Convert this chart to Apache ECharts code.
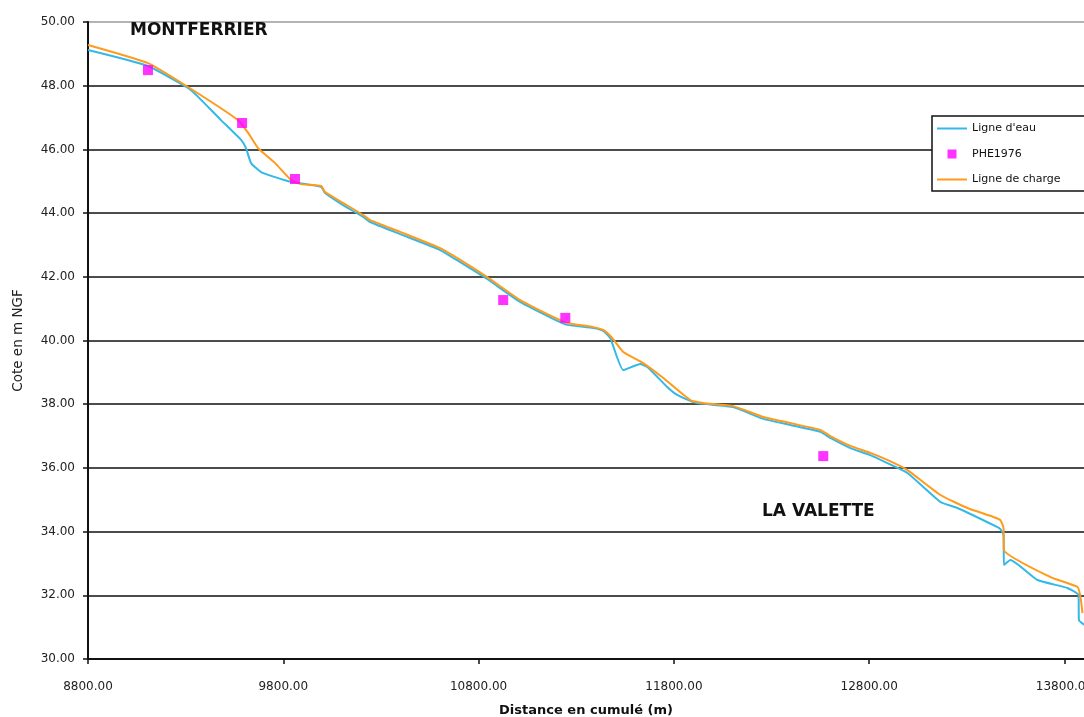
<!DOCTYPE html>
<html>
<head>
<meta charset="utf-8">
<script src="https://cdn.jsdelivr.net/npm/echarts@6/dist/echarts.min.js"></script>
<style>
html,body{margin:0;padding:0;background:#fff;overflow:hidden;}
#chart{width:1084px;height:717px;}
</style>
</head>
<body>
<div id="chart"></div>
<script>
// Ligne d'eau (water line): distance (m) and elevation (m NGF)
const eauX = [8800, 9107, 9312, 9364, 9481, 9584, 9609, 9635, 9686, 9758, 9840, 9994, 10014, 10106, 10209, 10245, 10398, 10603, 10706, 10844, 11013, 11182, 11254, 11387, 11438, 11474, 11541, 11628, 11664, 11766, 11817, 11899, 11951, 12104, 12258, 12396, 12550, 12601, 12704, 12806, 12893, 12996, 13165, 13252, 13457, 13472, 13488, 13490, 13523, 13662, 13815, 13872, 13874, 13903];
const eauY = [49.12, 48.62, 47.93, 47.65, 46.92, 46.30, 46.04, 45.57, 45.29, 45.13, 44.98, 44.82, 44.63, 44.25, 43.88, 43.72, 43.34, 42.84, 42.46, 41.93, 41.21, 40.68, 40.49, 40.39, 40.30, 40.08, 39.07, 39.26, 39.17, 38.54, 38.29, 38.07, 38.01, 37.91, 37.54, 37.35, 37.13, 36.94, 36.62, 36.40, 36.15, 35.84, 34.93, 34.74, 34.14, 34.08, 33.89, 32.95, 33.11, 32.48, 32.23, 32.01, 31.22, 31.07];

// Ligne de charge (energy line)
const chargeX = [8800, 9107, 9312, 9568, 9620, 9671, 9758, 9840, 9891, 9994, 10014, 10106, 10209, 10245, 10398, 10603, 10706, 10844, 11013, 11182, 11254, 11387, 11438, 11484, 11541, 11643, 11746, 11884, 11951, 12104, 12258, 12396, 12550, 12601, 12704, 12806, 12893, 12996, 13165, 13303, 13436, 13472, 13488, 13490, 13728, 13867, 13882, 13892];
const chargeY = [49.28, 48.71, 47.96, 46.92, 46.52, 46.04, 45.57, 45.04, 44.91, 44.85, 44.66, 44.32, 43.94, 43.78, 43.41, 42.90, 42.53, 41.99, 41.27, 40.74, 40.55, 40.42, 40.33, 40.08, 39.64, 39.29, 38.82, 38.13, 38.04, 37.94, 37.60, 37.41, 37.19, 37.00, 36.69, 36.47, 36.25, 35.93, 35.15, 34.74, 34.46, 34.36, 34.11, 33.42, 32.57, 32.26, 31.95, 31.44];

// PHE1976 (highest flood levels 1976)
const pheX = [9107, 9589, 9860, 10926, 11244, 12565];
const pheY = [48.49, 46.83, 45.07, 41.27, 40.71, 36.37];

const seriesNames = ["Ligne d'eau", "PHE1976", "Ligne de charge"];
const xAxisTitle = "Distance en cumulé (m)";
const yAxisTitle = "Cote en m NGF";
const placeLabels = ["MONTFERRIER", "LA VALETTE"];

const zip = (xs, ys) => xs.map((x, i) => [x, ys[i]]);
const FONT = "'DejaVu Sans', Verdana, sans-serif";

const chart = echarts.init(document.getElementById('chart'), null, {renderer: 'canvas', width: 1084, height: 717});

const splitColors = [];
for (let v = 30; v <= 50; v += 2) splitColors.push(v === 50 ? '#9a9a9a' : '#111');

chart.setOption({
  animation: false,
  backgroundColor: '#ffffff',
  grid: {left: 88, right: 0, top: 22, bottom: 58, containLabel: false, outerBoundsMode: 'none'},
  xAxis: {
    type: 'value', min: 8800, max: 13900, interval: 1000,
    name: xAxisTitle, nameLocation: 'middle', nameGap: 45,
    nameTextStyle: {fontFamily: FONT, fontSize: 13, fontWeight: 'bold', color: '#111'},
    axisLine: {show: true, lineStyle: {color: '#111', width: 2}},
    axisTick: {show: true, length: 5, lineStyle: {color: '#111', width: 1.5}},
    axisLabel: {fontFamily: FONT, fontSize: 12, color: '#222', margin: 22, showMaxLabel: false,
      hideOverlap: false, formatter: v => v.toFixed(2)},
    splitLine: {show: false}
  },
  yAxis: {
    type: 'value', min: 30, max: 50, interval: 2,
    name: yAxisTitle, nameLocation: 'middle', nameGap: 63, nameRotate: 90,
    nameTextStyle: {fontFamily: FONT, fontSize: 13.5, color: '#222'},
    axisLine: {show: true, lineStyle: {color: '#111', width: 2}},
    axisTick: {show: true, length: 5, lineStyle: {color: '#111', width: 1.5}},
    axisLabel: {fontFamily: FONT, fontSize: 12, color: '#222', margin: 13,
      formatter: v => v.toFixed(2)},
    splitLine: {show: true, lineStyle: {color: splitColors, width: 1.6}}
  },
  legend: {
    orient: 'vertical', left: 932, top: 116,
    backgroundColor: '#fff', borderColor: '#111', borderWidth: 1.5,
    padding: [7, 40, 6, 5], itemWidth: 30, itemHeight: 9, itemGap: 14.5,
    symbolKeepAspect: true,
    textStyle: {fontFamily: FONT, fontSize: 11, lineHeight: 11, color: '#111'},
    data: [
      {name: seriesNames[0], icon: 'path://M0,0L30,0L30,2L0,2Z'},
      {name: seriesNames[1], icon: 'path://M0,0L10,0L10,10L0,10Z'},
      {name: seriesNames[2], icon: 'path://M0,0L30,0L30,2L0,2Z'}
    ]
  },
  series: [
    {
      name: seriesNames[0], type: 'line', data: zip(eauX, eauY),
      symbol: 'none', smooth: 0.15, z: 3,
      lineStyle: {color: '#33b8e8', width: 2},
      itemStyle: {color: '#33b8e8'}
    },
    {
      name: seriesNames[2], type: 'line', data: zip(chargeX, chargeY),
      symbol: 'none', smooth: 0.15, z: 4,
      lineStyle: {color: '#ff9a1a', width: 2},
      itemStyle: {color: '#ff9a1a'}
    },
    {
      name: seriesNames[1], type: 'scatter', data: zip(pheX, pheY),
      symbol: 'rect', symbolSize: 10, z: 6,
      itemStyle: {color: '#ff00ff'}
    }
  ],
  graphic: [
    {type: 'text', left: 130, top: 22, z: 10,
      style: {text: placeLabels[0], font: "bold 17px 'DejaVu Sans', Verdana, sans-serif", fill: '#111'}},
    {type: 'text', left: 762, top: 503, z: 10,
      style: {text: placeLabels[1], font: "bold 17px 'DejaVu Sans', Verdana, sans-serif", fill: '#111'}}
  ]
});
</script>
</body>
</html>
